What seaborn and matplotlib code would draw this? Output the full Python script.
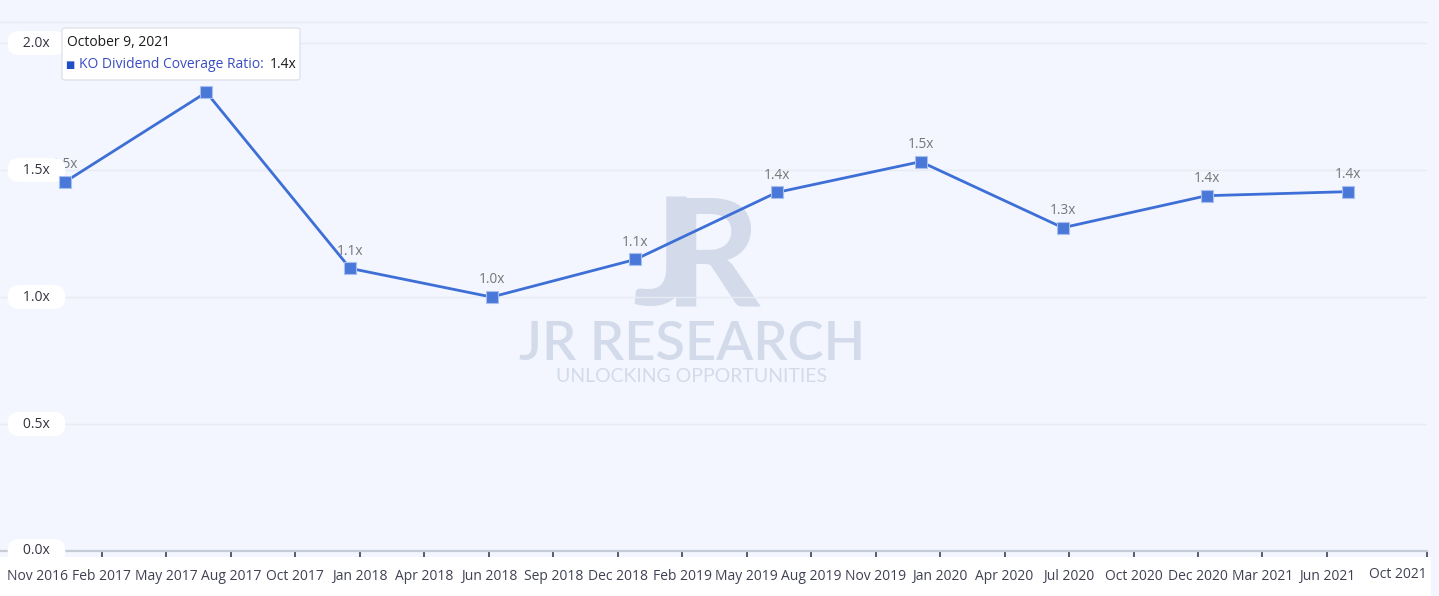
import pandas as pd
import matplotlib.pyplot as plt
import matplotlib.transforms as mtrans
import seaborn as sns
from matplotlib.patches import FancyBboxPatch

# DATA
dates = ['2016-12-31', '2017-06-30', '2017-12-31', '2018-06-30', '2018-12-31',
         '2019-06-30', '2019-12-31', '2020-06-30', '2020-12-31', '2021-06-30']
ratio = [1.453, 1.806, 1.113, 1.0, 1.148, 1.412, 1.533, 1.273, 1.399, 1.415]
shown = [True, False, True, True, True, True, True, True, True, True]  # 2nd label hidden by tooltip

tick_labels = ['Nov 2016', 'Feb 2017', 'May 2017', 'Aug 2017', 'Oct 2017', 'Jan 2018',
               'Apr 2018', 'Jun 2018', 'Sep 2018', 'Dec 2018', 'Feb 2019', 'May 2019',
               'Aug 2019', 'Nov 2019', 'Jan 2020', 'Apr 2020', 'Jul 2020', 'Oct 2020',
               'Dec 2020', 'Mar 2021', 'Jun 2021', 'Oct 2021']
y_ticks = [0.0, 0.5, 1.0, 1.5, 2.0]

x_start, x_end = pd.Timestamp('2016-10-09'), pd.Timestamp('2021-10-09')
first_tick, last_even_tick = pd.Timestamp('2016-11-26'), pd.Timestamp('2021-06-03')

df = pd.DataFrame({'date': pd.to_datetime(dates), 'ratio': ratio})

W, H = 1439, 596
BG = '#f3f6fe'
LINE = '#3d6fd6'
TICK_TXT = '#3f4152'

sns.set_theme(style='white')
plt.rcParams['font.family'] = ['Open Sans', 'DejaVu Sans']

fig = plt.figure(figsize=(W / 100, H / 100), dpi=100, facecolor=BG)
ax = fig.add_axes([0, 1 - 551 / H, 1427 / W, (551 - 22) / H])
ax.set_facecolor(BG)

def fx(px):
    return px / W

def fy(py):
    return 1 - py / H

# white strip under the x axis
fig.patches.append(FancyBboxPatch((0, 0), fx(1431), fy(557), boxstyle='square,pad=0',
                                  transform=fig.transFigure, fc='white', ec='none', zorder=-5))

sns.lineplot(data=df, x='date', y='ratio', ax=ax, color=LINE, linewidth=2,
             marker='s', markersize=9, markerfacecolor='#4a78d8',
             markeredgecolor='#a9c0ee', markeredgewidth=0.8, zorder=7)

for d, v, s in zip(df['date'], df['ratio'], shown):
    if s:
        ax.annotate(f'{v:.1f}x', (d, v), xytext=(0, 7), textcoords='offset points',
                    ha='center', va='bottom', fontsize=9.8, color='#767676', zorder=1)

ax.set_xlim(x_start, x_end)
ax.set_ylim(0, 2.083)

# evenly spaced date ticks; the last one sits on the right edge
tick_pos = list(pd.date_range(first_tick, last_even_tick, periods=len(tick_labels) - 1)) + [x_end]
ax.set_xticks(tick_pos)
ax.set_xticklabels(tick_labels[:-1] + [''])
ax.tick_params(axis='x', direction='out', length=4.3, width=1.1, color='#2b3245',
               labelsize=10, labelcolor=TICK_TXT, pad=9, bottom=True)
x_tr = mtrans.blended_transform_factory(ax.transData, fig.transFigure)
ax.text(x_end, fy(575), tick_labels[-1], transform=x_tr, ha='right', va='center',
        fontsize=10, color=TICK_TXT, clip_on=False)

# y labels drawn as white pills inside the plot
ax.set_yticks(y_ticks)
ax.set_yticklabels([])
ax.tick_params(axis='y', length=0)
pill_tr = mtrans.blended_transform_factory(fig.transFigure, ax.transData)
for t in y_ticks:
    ax.text(fx(36.5), t, f'\u00a0\u00a0\u00a0{t:.1f}x\u00a0\u00a0\u00a0', transform=pill_tr,
            ha='center', va='center', fontsize=10, color='#333340', zorder=6,
            bbox=dict(boxstyle='round,pad=0.32,rounding_size=0.8', fc='white', ec='none'))

ax.grid(axis='y', color='#e7ebf4', linewidth=1)
ax.grid(axis='x', visible=False)
ax.set_xlabel('')
ax.set_ylabel('')
for side in ['left', 'right']:
    ax.spines[side].set_visible(False)
ax.spines['top'].set_color('#e7ebf4')
ax.spines['top'].set_linewidth(1)
ax.spines['bottom'].set_color('#c6cbd8')
ax.spines['bottom'].set_linewidth(1.6)

# watermark
wm = '#d3daea'
ax.text(fx(697), fy(262), 'J', transform=fig.transFigure, ha='right', va='center',
        fontsize=108, fontweight='bold', color=wm, zorder=0.5, family='Lato')
ax.text(fx(664), fy(262), 'R', transform=fig.transFigure, ha='left', va='center',
        fontsize=108, fontweight='bold', color=wm, zorder=0.5, family='Lato')
ax.text(fx(692), fy(344), 'JR RESEARCH', transform=fig.transFigure, ha='center', va='center',
        fontsize=39, fontweight='semibold', color=wm, zorder=0.5, family='Lato')
ax.text(fx(692), fy(376), 'UNLOCKING OPPORTUNITIES', transform=fig.transFigure, ha='center',
        va='center', fontsize=14, color=wm, zorder=0.5, family='Lato')

# tooltip
tip = FancyBboxPatch((fx(62), fy(80)), fx(238), fy(28) - fy(80),
                     boxstyle='round,pad=0,rounding_size=0.003',
                     transform=fig.transFigure, fc='white', ec='#dfe3ea', lw=1, zorder=9)
fig.patches.append(tip)
fig.text(fx(67), fy(43), 'October 9, 2021', ha='left', va='center', fontsize=10,
         color='#1c1c1c', zorder=10)
fig.text(fx(65), fy(65), '■', ha='left', va='center', fontsize=7, color='#1f4fc6',
         zorder=10, family='DejaVu Sans')
fig.text(fx(79), fy(65), 'KO Dividend Coverage Ratio:', ha='left', va='center',
         fontsize=10, color='#3a4cc4', zorder=10)
fig.text(fx(270), fy(65), '1.4x', ha='left', va='center', fontsize=10,
         color='#1c1c1c', zorder=10)

fig.savefig('out.png', dpi=100, facecolor=BG)
